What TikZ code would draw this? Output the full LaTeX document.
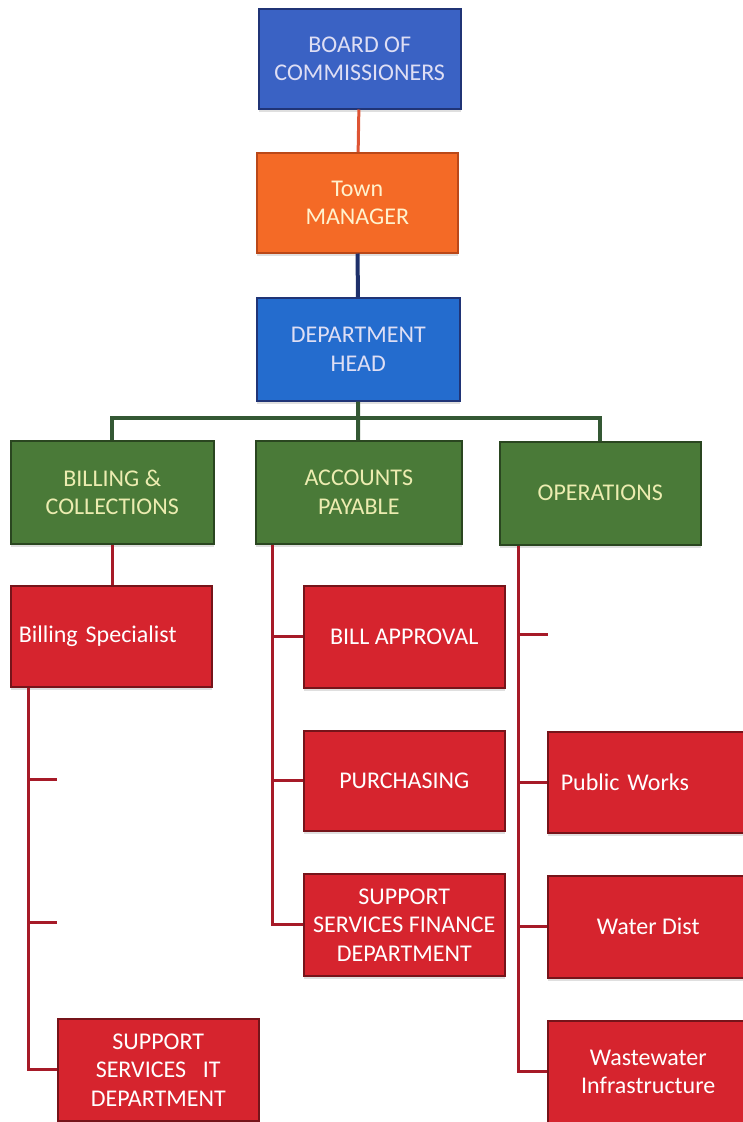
\documentclass[tikz,border=0pt]{standalone}
\usepackage{fontspec}
\setmainfont{Carlito}
\usetikzlibrary{shadows}
\definecolor{boardblue}{RGB}{58,98,196}
\definecolor{headblue}{RGB}{36,108,206}
\definecolor{blueedge}{RGB}{32,52,118}
\definecolor{paleblue}{RGB}{222,222,244}
\definecolor{mgrorange}{RGB}{244,106,38}
\definecolor{orangeedge}{RGB}{186,72,24}
\definecolor{paleorange}{RGB}{255,242,206}
\definecolor{deptgreen}{RGB}{74,122,56}
\definecolor{greenedge}{RGB}{42,70,32}
\definecolor{palegreen}{RGB}{236,236,176}
\definecolor{staffred}{RGB}{214,36,46}
\definecolor{rededge}{RGB}{118,20,26}
\definecolor{orangeline}{RGB}{222,84,52}
\definecolor{navyline}{RGB}{30,48,106}
\definecolor{busgreen}{RGB}{52,88,52}
\definecolor{redline}{RGB}{166,26,40}
\begin{document}
\begin{tikzpicture}[x=1pt,y=-1pt,%
% common options for the boxes:
box/.style = {rectangle, draw, line width=1.5pt, anchor=north west, align=center,
            minimum width=201pt, minimum height=101pt, inner sep=4pt,
            drop shadow={opacity=0.25, shadow xshift=0pt, shadow yshift=-3pt},
            font=\fontsize{24}{28.5}\selectfont},
bluebox/.style = {box, fill=boardblue, draw=blueedge, text=paleblue},
orangebox/.style = {box, fill=mgrorange, draw=orangeedge, text=paleorange},
greenbox/.style = {box, fill=deptgreen, draw=greenedge, text=palegreen},
redbox/.style = {box, fill=staffred, draw=rededge, text=white},
% common options for the lines:
link/.style = {line width=3pt},
busline/.style = {link, draw=busgreen, line width=4pt},
staffline/.style = {link, draw=redline}]
\useasboundingbox (0,0) rectangle (743,1122);
\node[bluebox, minimum width=202pt, minimum height=100pt] (board) at (258,8) {BOARD OF\\COMMISSIONERS};
\node[orangebox, minimum height=100pt] (manager) at (256,152) {Town\\MANAGER};
\node[bluebox, fill=headblue, minimum width=203pt, minimum height=103pt] (depthead) at (256,297) {DEPARTMENT\\HEAD};
\node[greenbox, minimum width=203pt, minimum height=103pt] (billing) at (10,440) {BILLING \&\\COLLECTIONS};
\node[greenbox, minimum width=206pt, minimum height=103pt] (payable) at (255,440) {ACCOUNTS\\PAYABLE};
\node[greenbox, minimum height=103pt] (operations) at (499,441) {OPERATIONS};
\node[redbox, align=left, text width=185pt] (specialist) at (10,585) {Billing Specialist};
\node[redbox, minimum height=102pt] (approval) at (303,585) {BILL APPROVAL};
\node[redbox, minimum height=100pt] (purchasing) at (303,730) {PURCHASING};
\node[redbox, minimum height=102pt] (finance) at (303,873) {SUPPORT\\SERVICES FINANCE\\DEPARTMENT};
\node[redbox, minimum height=102pt] (itdept) at (57,1018) {SUPPORT\\SERVICES\hspace{0.7em}IT\\DEPARTMENT};
\node[redbox, align=left, text width=175pt] (publicworks) at (547,731) {Public Works};
\node[redbox, minimum height=102pt] (waterdist) at (547,875) {Water Dist};
\node[redbox, minimum height=102pt] (wastewater) at (547,1020) {Wastewater\\Infrastructure};
% top of the chart
\draw[link, draw=orangeline] (board) -- (manager);
\draw[link, draw=navyline, line width=4pt] (manager) -- (depthead);
\coordinate (bus) at (358,418);
\draw[busline] (depthead) -- (bus);
\draw[busline] (billing) |- (bus) -| (operations);
\draw[busline] (bus) -- (payable);
% billing & collections
\draw[staffline] (billing.south) -- (billing.south |- specialist.north);
\coordinate (bstrunk) at ([xshift=18pt]specialist.south west);
\coordinate (bsstub1) at (57,779);
\coordinate (bsstub2) at (57,922);
\draw[staffline] (bstrunk) |- (bsstub1);
\draw[staffline] (bstrunk) |- (bsstub2);
\draw[staffline] (bstrunk) |- (itdept.west);
% accounts payable
\coordinate (aptrunk) at ([xshift=17pt]payable.south west);
\foreach \n in {approval,purchasing,finance}
  \draw[staffline] (aptrunk) |- (\n.west);
% operations
\coordinate (optrunk) at ([xshift=19pt]operations.south west);
\coordinate (opstub) at (548,634);
\draw[staffline] (optrunk) |- (opstub);
\foreach \n in {publicworks,waterdist,wastewater}
  \draw[staffline] (optrunk) |- (\n.west);
\end{tikzpicture}
\end{document}
